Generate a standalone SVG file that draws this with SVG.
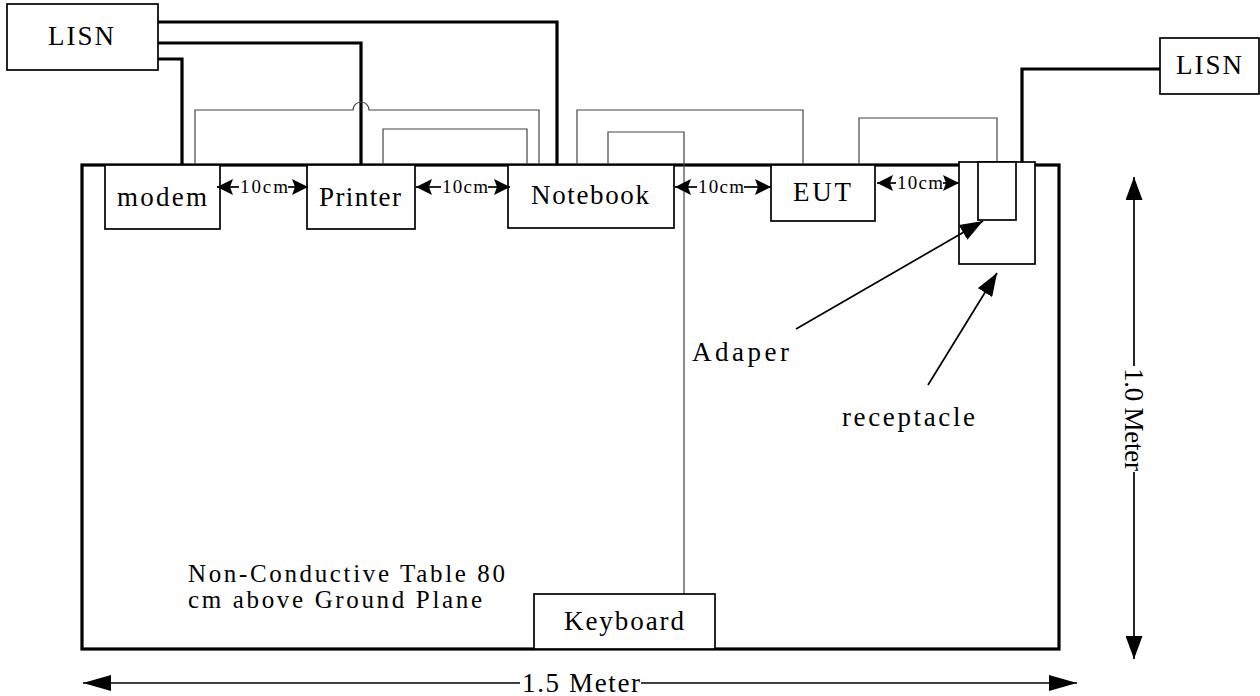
<svg xmlns="http://www.w3.org/2000/svg" width="1260" height="696" viewBox="0 0 1260 696">
<defs>
<style>
.box{fill:#fff;stroke:#000;stroke-width:1.7}
.thick{fill:none;stroke:#000;stroke-width:3.2}
.gray{fill:none;stroke:#444;stroke-width:1.2}
.dim{fill:none;stroke:#000;stroke-width:1.7}
.t{font-family:"Liberation Serif","Times New Roman",serif;font-size:27px;fill:#000}
.n{font-family:"Liberation Serif","Times New Roman",serif;font-size:25px;fill:#000}
.s{font-family:"Liberation Serif","Times New Roman",serif;font-size:19px;fill:#000}
</style>
<marker id="sm" viewBox="0 0 16 16" refX="16" refY="8" markerWidth="16" markerHeight="16" markerUnits="userSpaceOnUse" orient="auto">
<path d="M0,0 L16,8 L0,16 L3,8 z" fill="#000"/>
</marker>
<marker id="bh" viewBox="0 0 28 16" refX="28" refY="8" markerWidth="28" markerHeight="16" markerUnits="userSpaceOnUse" orient="auto">
<path d="M0,0 L28,8 L0,16 z" fill="#000"/>
</marker>
<marker id="bv" viewBox="0 0 23 17" refX="23" refY="8.5" markerWidth="23" markerHeight="17" markerUnits="userSpaceOnUse" orient="auto">
<path d="M0,0 L23,8.5 L0,17 z" fill="#000"/>
</marker>
</defs>

<g id="table">
<rect x="82" y="165" width="977" height="484" fill="#fff" stroke="#000" stroke-width="3.2"/>
<text class="n" x="188" y="582" textLength="317" lengthAdjust="spacing">Non-Conductive Table 80</text>
<text class="n" x="188" y="608" textLength="294" lengthAdjust="spacing">cm above Ground Plane</text>
</g>

<g id="wires">
<path class="thick" d="M158,22 H557 V165"/>
<path class="thick" d="M158,43 H361 V165"/>
<path class="thick" d="M158,59 H182 V165"/>
<path class="thick" d="M1160,69 H1022 V162"/>
<path class="gray" d="M195,165 V110 H353 A8,8 0 0 1 369,110 H539 V165"/>
<path class="gray" d="M383,165 V129 H527 V165"/>
<path class="gray" d="M577,165 V110 H803 V165"/>
<path class="gray" d="M608,165 V132 H684 V594"/>
<path class="gray" d="M859,165 V118 H997 V162"/>
</g>

<g id="lisn-left">
<rect class="box" x="7" y="4" width="151" height="66"/>
<text class="t" x="48" y="45" textLength="66" lengthAdjust="spacing">LISN</text>
</g>
<g id="lisn-right">
<rect class="box" x="1160" y="38" width="99" height="56"/>
<text class="t" x="1176" y="74" textLength="66" lengthAdjust="spacing">LISN</text>
</g>
<g id="modem">
<rect class="box" x="105" y="165" width="115" height="64"/>
<text class="t" x="117" y="206" textLength="90" lengthAdjust="spacing">modem</text>
</g>
<g id="printer">
<rect class="box" x="307" y="165" width="108" height="64"/>
<text class="t" x="319" y="206" textLength="82" lengthAdjust="spacing">Printer</text>
</g>
<g id="notebook">
<rect class="box" x="508" y="165" width="166" height="63"/>
<text class="t" x="531" y="204" textLength="118" lengthAdjust="spacing">Notebook</text>
</g>
<g id="eut">
<rect class="box" x="771" y="165" width="104" height="56"/>
<text class="t" x="793" y="201" textLength="58" lengthAdjust="spacing">EUT</text>
</g>
<g id="receptacle">
<rect class="box" x="959" y="162" width="76" height="102"/>
</g>
<g id="adapter">
<rect class="box" x="978" y="162" width="38" height="58" stroke-width="2"/>
</g>
<g id="keyboard">
<rect class="box" x="534" y="594" width="181" height="55"/>
<text class="t" x="564" y="630" textLength="120" lengthAdjust="spacing">Keyboard</text>
</g>

<g id="connectors">
<line class="dim" x1="239" y1="187" x2="217" y2="187" marker-end="url(#sm)"/>
<line class="dim" x1="288" y1="187" x2="308" y2="187" marker-end="url(#sm)"/>
<line class="dim" x1="441" y1="187" x2="416" y2="187" marker-end="url(#sm)"/>
<line class="dim" x1="488" y1="187" x2="510" y2="187" marker-end="url(#sm)"/>
<line class="dim" x1="697" y1="187" x2="675" y2="187" marker-end="url(#sm)"/>
<line class="dim" x1="744" y1="187" x2="771" y2="187" marker-end="url(#sm)"/>
<line class="dim" x1="896" y1="183" x2="877" y2="183" marker-end="url(#sm)"/>
<line class="dim" x1="943" y1="183" x2="959" y2="183" marker-end="url(#sm)"/>
<line class="dim" x1="796" y1="329" x2="983" y2="221" marker-end="url(#bv)"/>
<line class="dim" x1="928" y1="385" x2="997" y2="273" marker-end="url(#bv)"/>
<line class="dim" x1="520" y1="683" x2="83" y2="683" marker-end="url(#bh)"/>
<line class="dim" x1="641" y1="683" x2="1077" y2="683" marker-end="url(#bh)"/>
<line class="dim" x1="1134" y1="366" x2="1134" y2="177" marker-end="url(#bv)"/>
<line class="dim" x1="1134" y1="472" x2="1134" y2="659" marker-end="url(#bv)"/>
</g>

<g id="labels">
<text class="s" x="240" y="193" textLength="48" lengthAdjust="spacing">10cm</text>
<text class="s" x="442" y="193" textLength="46" lengthAdjust="spacing">10cm</text>
<text class="s" x="698" y="193" textLength="46" lengthAdjust="spacing">10cm</text>
<text class="s" x="897" y="189" textLength="46" lengthAdjust="spacing">10cm</text>
<text class="t" x="692" y="361" textLength="97" lengthAdjust="spacing">Adaper</text>
<text class="t" x="842" y="426" textLength="133" lengthAdjust="spacing">receptacle</text>
<text class="t" x="522" y="692" textLength="118" lengthAdjust="spacing">1.5 Meter</text>
<text class="t" transform="translate(1125,368) rotate(90)" x="0" y="0" textLength="103" lengthAdjust="spacing">1.0 Meter</text>
</g>
</svg>
